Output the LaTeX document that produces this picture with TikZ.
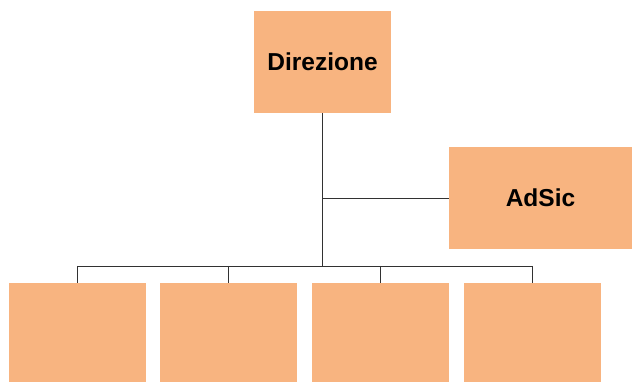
\documentclass[tikz,border=0pt]{standalone}
\usepackage{fontspec}
\setmainfont{Liberation Sans}
\definecolor{boxfill}{RGB}{248,180,128}
\definecolor{linec}{RGB}{50,50,50}
\begin{document}
\begin{tikzpicture}[x=1pt,y=-1pt,
  orgbox/.style={fill=boxfill,draw=none,inner sep=0pt,minimum width=137pt,minimum height=99pt,font=\fontsize{24.5}{29}\selectfont\bfseries},
  conn/.style={draw=linec,line width=0.9pt}]
\useasboundingbox (0,0) rectangle (632,382);
\node[orgbox,minimum height=102pt] (dir) at (322.5,62) {Direzione};
\node[orgbox,minimum width=183pt,minimum height=102pt] (adsic) at (540.5,198) {AdSic};
\node[orgbox] (b1) at (77.5,332.5) {};
\node[orgbox] (b2) at (228.5,332.5) {};
\node[orgbox] (b3) at (380.5,332.5) {};
\node[orgbox] (b4) at (532.5,332.5) {};
\coordinate (bus) at (322.5,266);
\draw[conn] (dir.south) -- (bus);
\draw[conn] (dir.south |- adsic.west) -- (adsic.west);
\draw[conn] (b1.north |- bus) -- (b4.north |- bus);
\foreach \b in {b1,b2,b3,b4} \draw[conn] (\b.north |- bus) -- (\b.north);
\end{tikzpicture}
\end{document}
